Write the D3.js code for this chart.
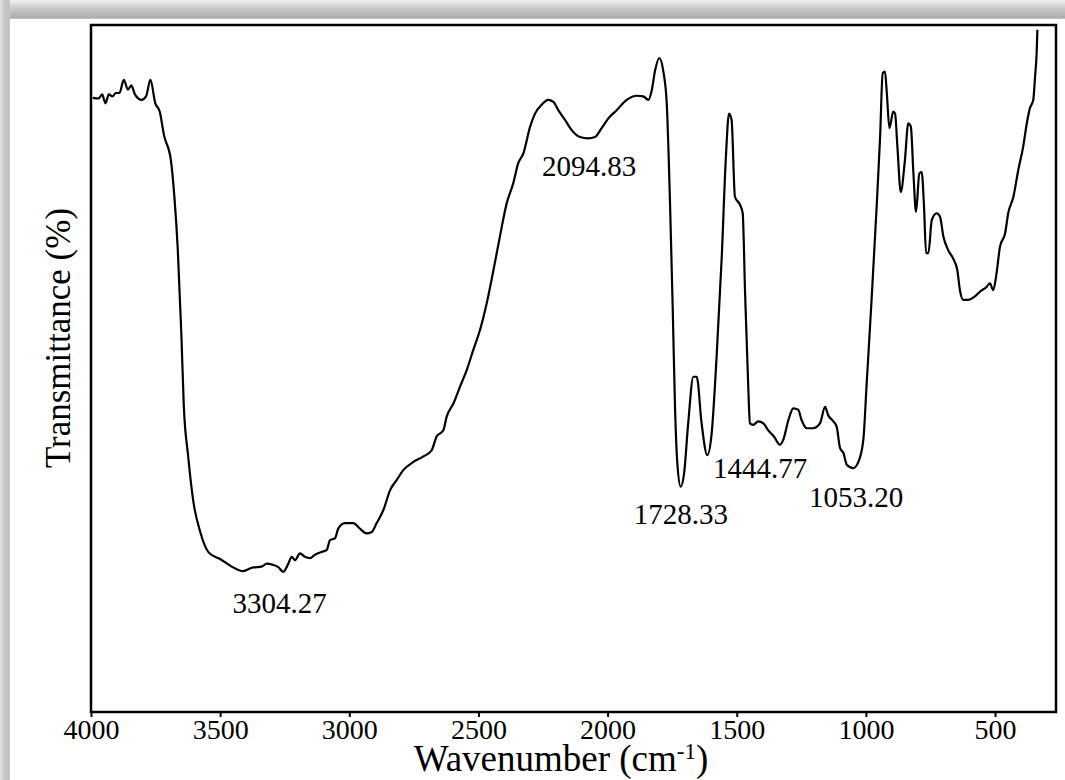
<!DOCTYPE html>
<html>
<head>
<meta charset="utf-8">
<script src="https://cdn.jsdelivr.net/npm/d3@7"></script>
<style>
body { margin: 0; background: #fff; }
svg { display: block; font-family: "Liberation Serif", "Times New Roman", serif; }
</style>
</head>
<body>
<script>
// FTIR spectrum (wavenumber in cm-1, transmittance in %)
var wavenumber = [
    3993, 3971, 3957, 3944, 3931, 3917, 3904, 3890, 3873, 3857,
    3844, 3830, 3804, 3787, 3770, 3751, 3734, 3717, 3691, 3677,
    3664, 3650, 3641, 3624, 3604, 3577, 3544, 3497, 3457, 3411,
    3377, 3337,
    3320, 3294, 3275, 3256, 3236, 3223, 3210, 3191, 3172, 3152,
    3133, 3107, 3087, 3075, 3055, 3043, 3017, 2984, 2959, 2933,
    2913, 2894, 2868, 2842, 2816, 2791, 2752, 2713, 2681, 2662,
    2636, 2623, 2597, 2571, 2545, 2520, 2494, 2468, 2442, 2417,
    2391, 2365, 2346, 2326,
    2300, 2281, 2255, 2230, 2210, 2191, 2165, 2139, 2107, 2075,
    2049, 2023, 1997, 1965, 1926, 1887, 1862, 1842, 1829, 1816,
    1800, 1784, 1771, 1758, 1748, 1739, 1730, 1717, 1704, 1688,
    1668, 1655, 1636, 1614,
    1597, 1578, 1558, 1542, 1530, 1520, 1507, 1487, 1477, 1468,
    1455, 1449, 1436, 1417, 1397, 1378, 1356, 1333, 1320, 1300,
    1281, 1262, 1249, 1229, 1204, 1178, 1158, 1146, 1126, 1113,
    1100, 1087, 1074, 1049, 1029, 1010, 997, 978, 958, 945,
    935, 926, 919, 909, 894, 887, 878, 865, 849, 836,
    826, 816, 806, 793, 784, 775, 767, 758, 745, 726,
    713, 700, 681, 662, 646, 636, 623, 604, 578, 558,
    532, 520, 507, 494, 481, 461, 449, 429, 410, 391,
    377, 365, 352, 345, 339, 336
];

var transmittance = [
    89.4, 89.3, 89.9, 88.6, 89.9, 89.6, 90.1, 90.1, 92.0, 90.6,
    91.2, 89.9, 89.1, 89.6, 92.0, 88.6, 87.4, 83.9, 80.4, 74.9,
    67.3, 54.8, 44.8, 37.3, 30.7, 26.2, 23.2, 22.2, 21.2, 20.5,
    21.0, 21.2,
    21.6, 21.4, 21.1, 20.4, 21.6, 22.6, 22.1, 23.1, 22.6, 22.4,
    22.9, 23.3, 23.6, 25.0, 25.3, 26.7, 27.5, 27.5, 26.7, 26.0,
    26.2, 27.5, 29.4, 32.3, 33.8, 35.2, 36.4, 37.2, 38.1, 40.1,
    41.0, 43.0, 44.9, 47.4, 49.8, 52.7, 55.6, 59.5, 64.3, 69.2,
    74.0, 77.0, 79.9, 81.3,
    85.2, 87.1, 88.4, 89.1, 88.8, 87.6, 86.2, 84.7, 83.7, 83.5,
    83.7, 85.0, 86.4, 87.6, 89.1, 89.7, 89.6, 89.1, 90.5, 93.4,
    95.2, 93.2, 88.6, 73.6, 59.0, 44.4, 36.2, 32.8, 34.7, 42.0,
    48.8, 48.8, 42.0, 37.4,
    40.6, 51.7, 66.3, 80.8, 87.1, 86.2, 75.0, 73.8, 72.6, 61.4,
    46.9, 42.0, 41.8, 42.3, 42.0, 41.0, 40.1, 38.9, 39.6, 42.5,
    44.2, 44.0, 42.5, 41.3, 41.3, 42.0, 44.4, 43.2, 42.3, 41.5,
    38.4, 37.7, 36.0, 35.5, 36.4, 39.6, 47.8, 60.0, 73.8, 83.7,
    93.0, 93.2, 90.1, 85.0, 87.4, 87.1, 82.3, 75.7, 80.3, 85.7,
    85.2, 78.4, 72.8, 78.4, 78.6, 73.6, 66.8, 66.8, 71.6, 72.6,
    72.1, 69.2, 67.2, 66.0, 64.3, 61.4, 60.0, 60.0, 60.5, 61.2,
    61.9, 62.4, 61.4, 63.9, 67.7, 69.7, 72.6, 75.0, 78.9, 82.3,
    85.7, 87.9, 89.1, 92.5, 95.9, 99.3
];

var tickValues = [4000, 3500, 3000, 2500, 2000, 1500, 1000, 500];

var peakLabels = ["3304.27", "2094.83", "1728.33", "1444.77", "1053.20"];
var peakWavenumbers = [3304.27, 2094.83, 1728.33, 1444.77, 1053.20];

// label nudges (px) from the curve point of each peak
var labelShift = [[9, 49], [6, 38], [3, 58], [9, 54], [4, 39]];

var width = 1065,
    height = 780;

var margin = { top: 25, right: 9, bottom: 68, left: 91 };

var svg = d3.select("body")
    .append("svg")
    .attr("width", width)
    .attr("height", height);

// gray "picture shadow" on the top and left edge
var defs = svg.append("defs");
var topGrad = defs.append("linearGradient")
    .attr("id", "topShade")
    .attr("x1", 0).attr("y1", 0).attr("x2", 0).attr("y2", 1);
topGrad.append("stop").attr("offset", "0%").attr("stop-color", "#f0f0f0");
topGrad.append("stop").attr("offset", "20%").attr("stop-color", "#e0e0e0");
topGrad.append("stop").attr("offset", "55%").attr("stop-color", "#c2c2c2");
topGrad.append("stop").attr("offset", "95%").attr("stop-color", "#adadad");
topGrad.append("stop").attr("offset", "100%").attr("stop-color", "#d8d8d8");

var leftGrad = defs.append("linearGradient")
    .attr("id", "leftShade")
    .attr("x1", 0).attr("y1", 0).attr("x2", 1).attr("y2", 0);
leftGrad.append("stop").attr("offset", "0%").attr("stop-color", "#e6e6e6");
leftGrad.append("stop").attr("offset", "30%").attr("stop-color", "#d0d0d0");
leftGrad.append("stop").attr("offset", "90%").attr("stop-color", "#bdbdbd");
leftGrad.append("stop").attr("offset", "100%").attr("stop-color", "#dcdcdc");

svg.append("rect")
    .attr("x", 0).attr("y", 0)
    .attr("width", width).attr("height", 19)
    .attr("fill", "url(#topShade)");

svg.append("rect")
    .attr("x", 0).attr("y", 0)
    .attr("width", 10).attr("height", height)
    .attr("fill", "url(#leftShade)");

// scales
var x = d3.scaleLinear()
    .domain([4000, 264])
    .range([margin.left, width - margin.right]);

var y = d3.scaleLinear()
    .domain([0, 100])
    .range([height - margin.bottom, margin.top]);

var spectrum = wavenumber.map(function(w, i) {
    return { wn: w, t: transmittance[i] };
});

// bottom axis
var xAxis = svg.append("g")
    .attr("transform", "translate(0," + (height - margin.bottom) + ")")
    .call(d3.axisBottom(x)
        .tickValues(tickValues)
        .tickSize(5)
        .tickPadding(2)
        .tickFormat(d3.format("d")));

xAxis.select(".domain").remove();
xAxis.selectAll(".tick line")
    .attr("stroke", "#000")
    .attr("stroke-width", 2);
xAxis.selectAll(".tick text")
    .attr("fill", "#000")
    .style("font-family", "'Liberation Serif', 'Times New Roman', serif")
    .style("font-size", "28px");

// plot frame
svg.append("rect")
    .attr("x", margin.left)
    .attr("y", margin.top)
    .attr("width", width - margin.left - margin.right)
    .attr("height", height - margin.top - margin.bottom)
    .attr("fill", "none")
    .attr("stroke", "#000")
    .attr("stroke-width", 2.5);

// the spectrum
var line = d3.line()
    .x(function(d) { return x(d.wn); })
    .y(function(d) { return y(d.t); })
    .curve(d3.curveMonotoneX);

svg.append("path")
    .datum(spectrum)
    .attr("fill", "none")
    .attr("stroke", "#000")
    .attr("stroke-width", 2.2)
    .attr("stroke-linejoin", "round")
    .attr("d", line);

// transmittance at a given wavenumber (linear between read points)
function tAt(w) {
    for (var i = 0; i < spectrum.length - 1; i++) {
        var a = spectrum[i], b = spectrum[i + 1];
        if (w <= a.wn && w >= b.wn) {
            return a.t + (b.t - a.t) * (a.wn - w) / (a.wn - b.wn);
        }
    }
    return spectrum[spectrum.length - 1].t;
}

// peak labels
svg.append("g")
    .selectAll("text")
    .data(peakLabels)
    .enter().append("text")
        .attr("x", function(d, i) { return x(peakWavenumbers[i]) + labelShift[i][0]; })
        .attr("y", function(d, i) { return y(tAt(peakWavenumbers[i])) + labelShift[i][1]; })
        .attr("text-anchor", "middle")
        .attr("font-size", "29px")
        .attr("fill", "#000")
        .text(function(d) { return d; });

// axis titles
var xTitle = svg.append("text")
    .attr("x", 561)
    .attr("y", 771)
    .attr("text-anchor", "middle")
    .attr("font-size", "37px")
    .attr("fill", "#000");
xTitle.append("tspan").text("Wavenumber (cm");
xTitle.append("tspan")
    .attr("font-size", "23px")
    .attr("dy", -12)
    .text("-1");
xTitle.append("tspan")
    .attr("dy", 12)
    .text(")");

svg.append("text")
    .attr("transform", "translate(70,338) rotate(-90)")
    .attr("text-anchor", "middle")
    .attr("font-size", "35px")
    .attr("fill", "#000")
    .text("Transmittance (%)");
</script>
</body>
</html>
